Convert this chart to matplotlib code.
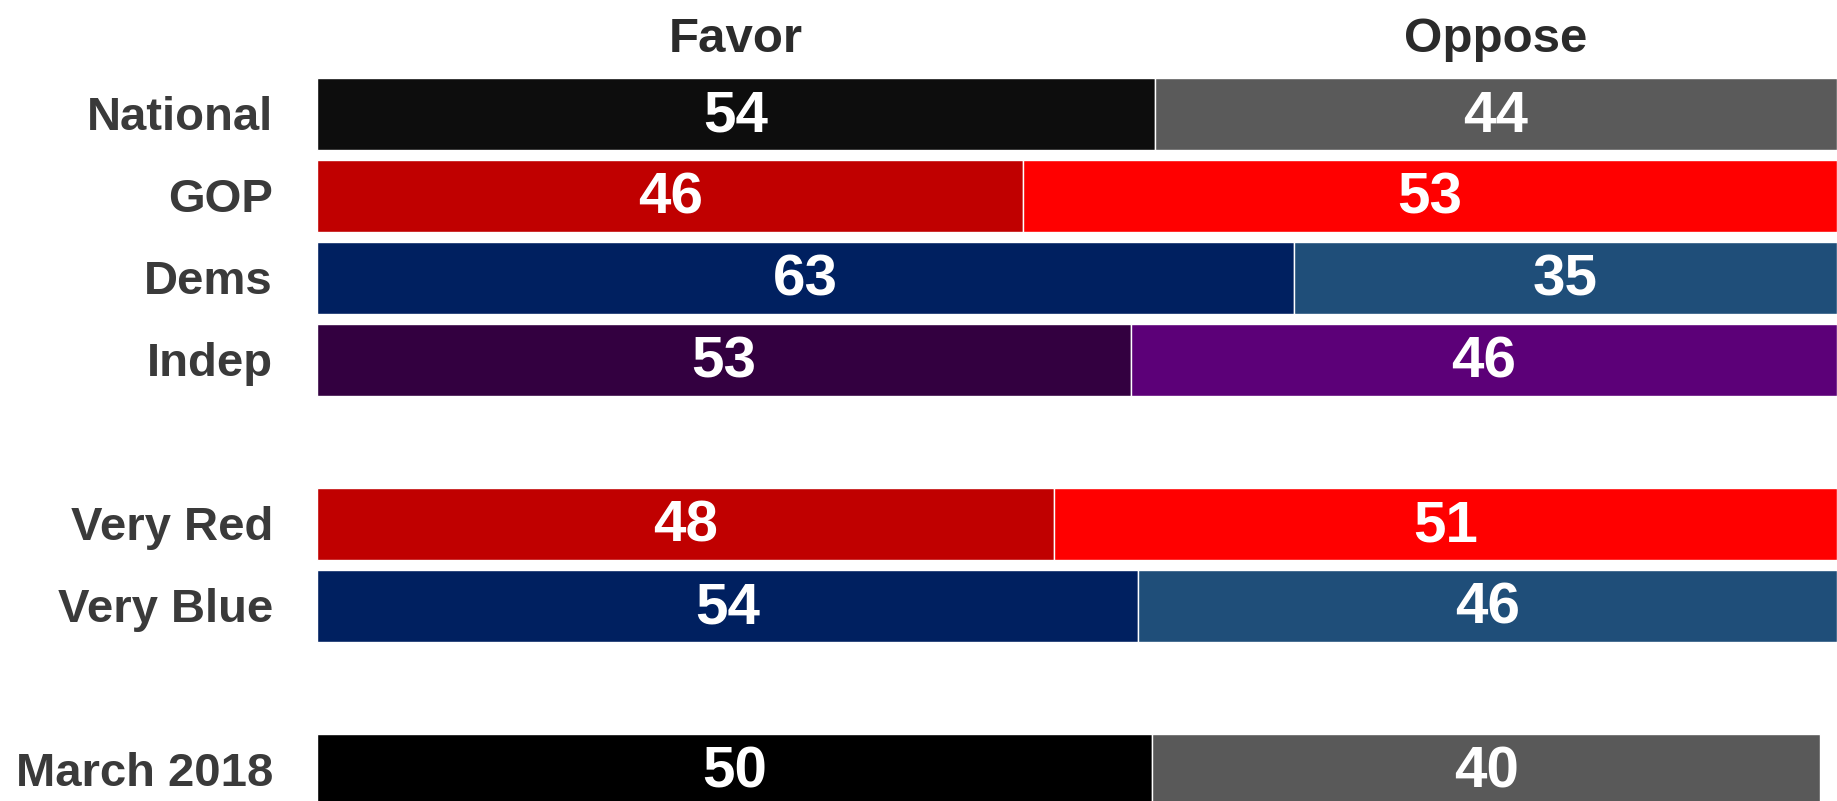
import matplotlib
matplotlib.use('Agg')
import matplotlib.pyplot as plt
import matplotlib.transforms as mtransforms

# survey rows, top to bottom; None marks an empty spacer slot
groups = ['National', 'GOP', 'Dems', 'Indep', None, 'Very Red', 'Very Blue', None, 'March 2018']
favor = [54, 46, 63, 53, None, 48, 54, None, 50]
oppose = [44, 53, 35, 46, None, 51, 46, None, 40]
# unshown remainder (no answer) kept blank at the right end
rest = [0, 0, 0, 0, None, 0, 0, None, 1]

favor_colors = ['#0d0d0d', '#c00000', '#002060', '#330040', None, '#c00000', '#002060', None, '#000000']
oppose_colors = ['#5a5a5a', '#ff0000', '#1f4e79', '#5c0078', None, '#ff0000', '#1f4e79', None, '#595959']

plt.rcParams['font.family'] = ['Liberation Sans', 'DejaVu Sans']
plt.rcParams['font.weight'] = 'bold'

fig = plt.figure(figsize=(18.37, 8.01), dpi=100)
left = 317 / 1837
ax = fig.add_axes([left, 0, 1 - left, 1])

label_trans = mtransforms.blended_transform_factory(
    ax.transAxes, ax.transData)

base = 0.195  # baseline offset below the bar centre, in row units

for i, name in enumerate(groups):
    if name is None:
        continue
    total = favor[i] + oppose[i] + rest[i]
    f = favor[i] / total
    o = oppose[i] / total
    ax.barh(i, f, left=0, height=0.872, color=favor_colors[i],
            edgecolor='white', linewidth=1)
    ax.barh(i, o, left=f, height=0.872, color=oppose_colors[i],
            edgecolor='white', linewidth=1)
    ax.text(f / 2, i + base + 0.02, str(favor[i]), ha='center', va='baseline',
            color='white', fontsize=42, fontweight='bold')
    ax.text(f + o / 2, i + base + 0.02, str(oppose[i]), ha='center', va='baseline',
            color='white', fontsize=42, fontweight='bold')
    ax.text(-0.029, i + base, name, ha='right', va='baseline', color='#3a3a3a',
            fontsize=34, fontweight='bold', transform=label_trans)

# column headers centred over the National segments
nat_f = favor[0] / (favor[0] + oppose[0] + rest[0])
ax.text(nat_f / 2, -0.756, 'Favor', ha='center', va='baseline',
        color='#2b2b2b', fontsize=35.5, fontweight='bold')
ax.text(nat_f + (1 - nat_f) / 2, -0.756, 'Oppose', ha='center', va='baseline',
        color='#2b2b2b', fontsize=35.5, fontweight='bold')

ax.set_xlim(0, 1)
ax.set_ylim(8.378, -1.39)
ax.axis('off')

plt.savefig('out.png', dpi=100)
